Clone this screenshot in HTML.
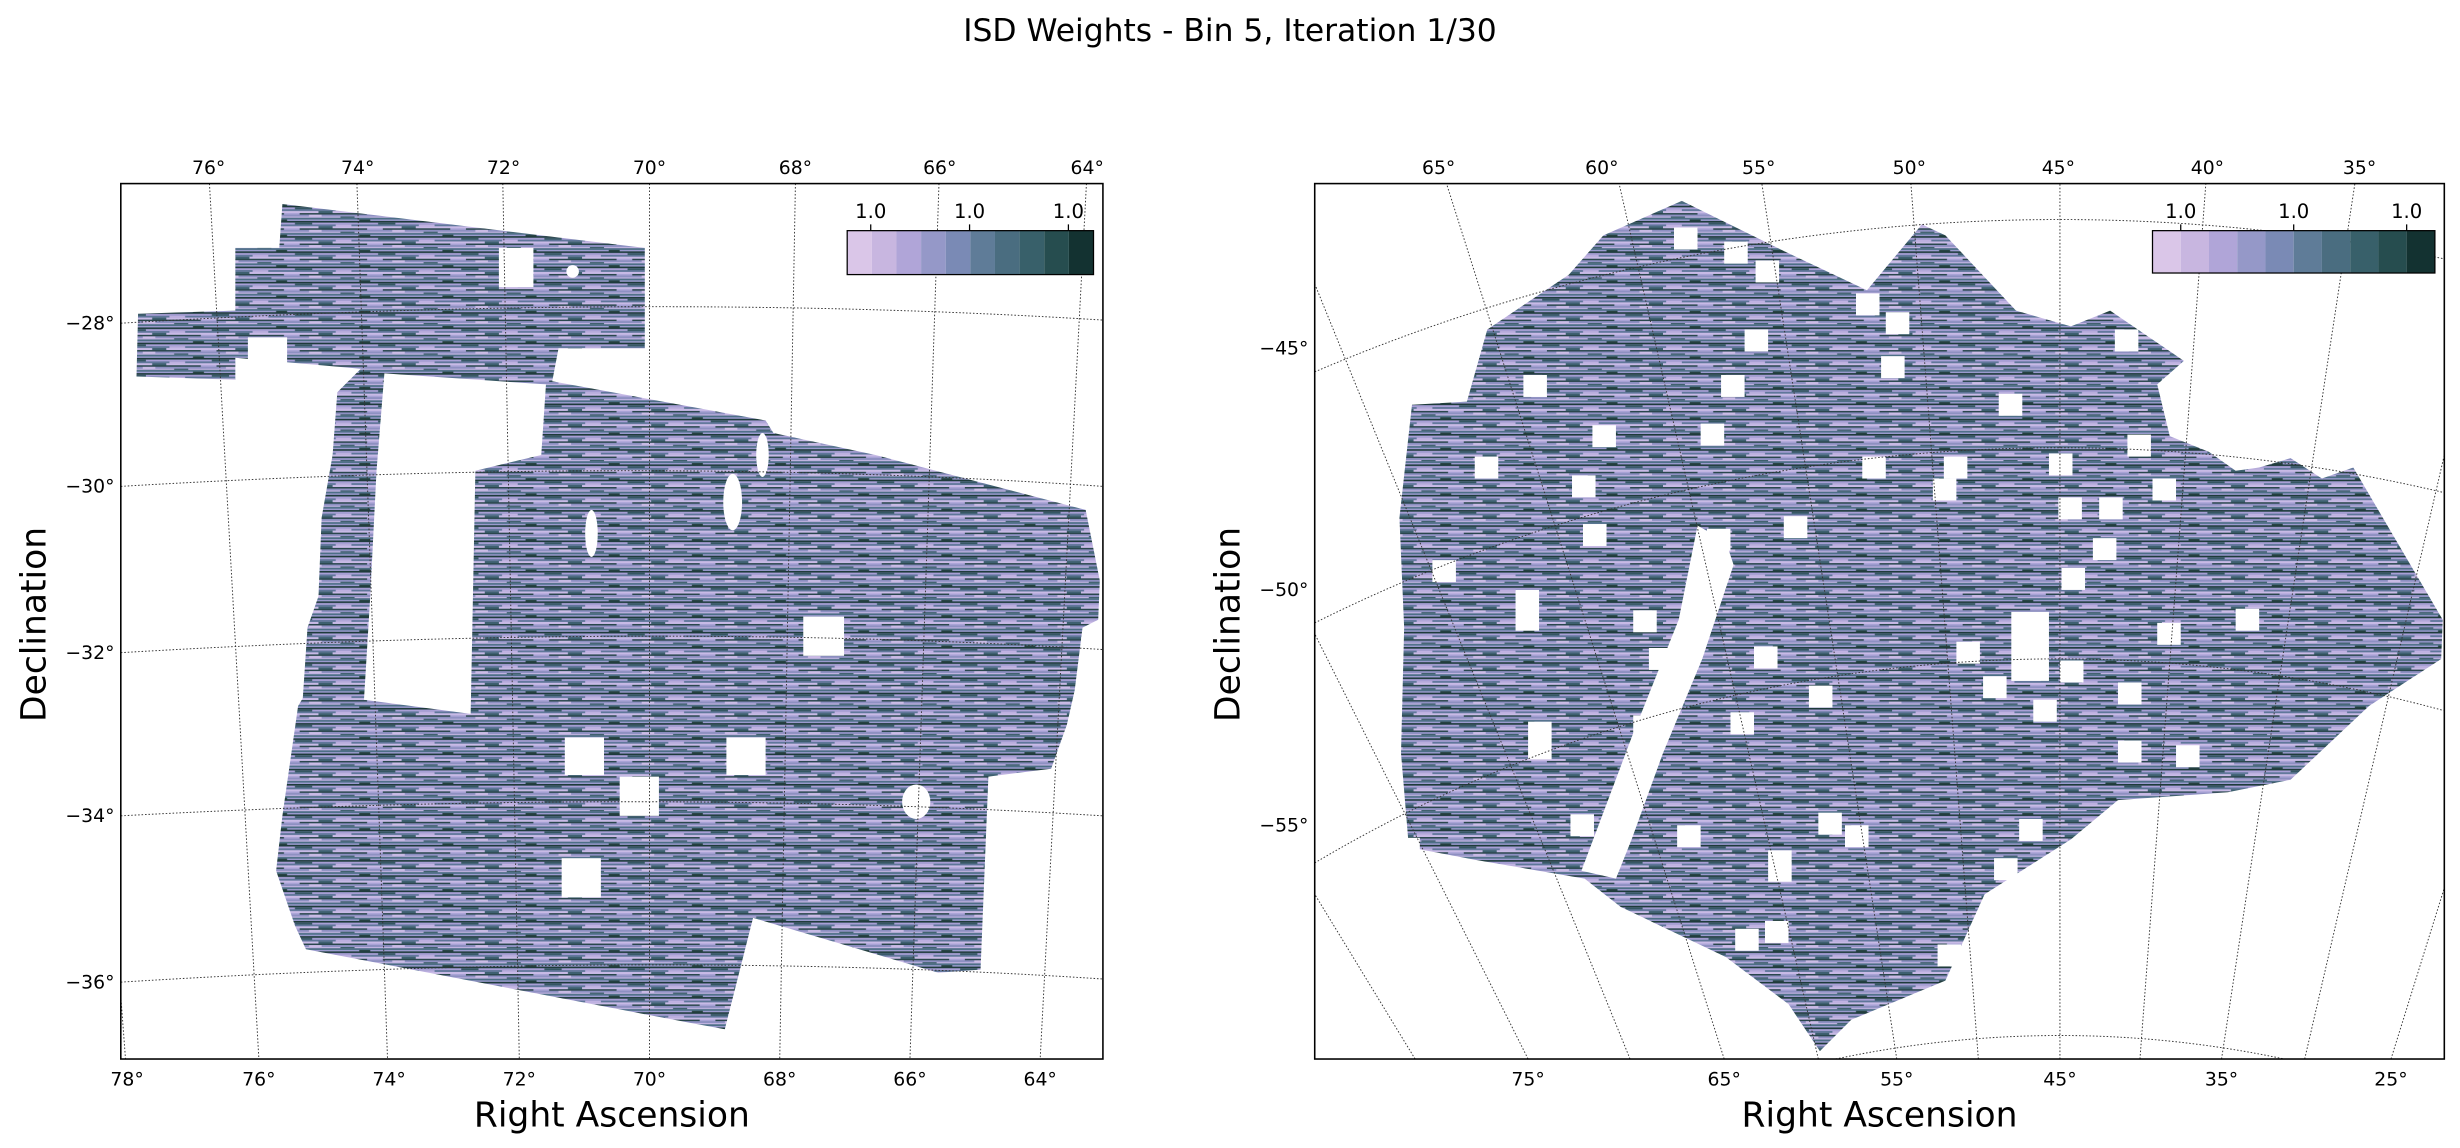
<!DOCTYPE html>
<html><head><meta charset="utf-8"><style>
html,body{margin:0;padding:0;background:#fff;width:2460px;height:1148px;overflow:hidden;}
svg{display:block;}
text{font-family:"DejaVu Sans","Liberation Sans",sans-serif;fill:#000;}
</style></head><body>
<svg width="2460" height="1148" viewBox="0 0 1568 731.7" xmlns="http://www.w3.org/2000/svg">
<defs>
<pattern id="st" patternUnits="userSpaceOnUse" width="53" height="9.7">
<rect x="0" y="0" width="53" height="9.7" fill="#7580a8"/>
<rect x="0" y="0" width="53" height="1" fill="#2a474d"/>
<rect x="0" y="1" width="53" height="1.2" fill="#8e90c2"/>
<rect x="0" y="2.2" width="53" height="0.8" fill="#c2b5e2"/>
<rect x="0" y="3" width="53" height="1.1" fill="#4d6f86"/>
<rect x="0" y="4.1" width="53" height="0.9" fill="#9c9cd0"/>
<rect x="0" y="5" width="53" height="1.1" fill="#1e3b3b"/>
<rect x="0" y="6.1" width="53" height="1.2" fill="#a89fd6"/>
<rect x="0" y="7.3" width="53" height="1.1" fill="#5d7598"/>
<rect x="0" y="8.4" width="53" height="1.3" fill="#c8bae6"/>
<rect x="5" y="2.2" width="9" height="0.8" fill="#3c5e6a"/>
<rect x="29" y="6.1" width="11" height="1.2" fill="#355763"/>
<rect x="17" y="4.1" width="7" height="0.9" fill="#24403f"/>
<rect x="38" y="1" width="8" height="1.2" fill="#cbbce6"/>
<rect x="2" y="7.3" width="10" height="1.1" fill="#c0b2e2"/>
<rect x="44" y="8.4" width="9" height="1.3" fill="#3e6070"/>
<rect x="22" y="0" width="10" height="1" fill="#a9a3d6"/>
</pattern>
<clipPath id="cl"><rect x="77" y="117" width="626" height="558"/></clipPath>
<clipPath id="cr"><rect x="838" y="117" width="720" height="558"/></clipPath>
</defs>

<text x="784" y="26" font-size="20" text-anchor="middle">ISD Weights - Bin 5, Iteration 1/30</text>

<!-- LEFT PANEL -->
<g clip-path="url(#cl)">
<path fill="url(#st)" d="M180,130 L411,158 L411,222 L356,222 L352,243 L488,268 L493,276 L558,290 L692,325 L701,370 L700,395 L690,400 L685,440 L680,462 L670,490 L630,495 L625,618 L598,620 L480,585 L462,656 L440,652 L195,605 L188,590 L176,555 L180,520 L190,450 L193,445 L196,400 L203,380 L205,330 L212,290 L215,250 L230,235 L150,228 L150,242 L87,240 L88,200 L150,198 L150,158 L178,158 Z"/>
<g fill="#fff">
<path d="M245,238 L348,245 L345,290 L303,300 L300,455 L232,446 L236,380 L240,300 Z"/>
<rect x="318" y="158" width="22" height="25"/>
<rect x="158" y="215" width="25" height="25"/>
<rect x="512" y="393" width="26" height="25"/>
<rect x="360" y="470" width="25" height="24"/>
<rect x="463" y="470" width="25" height="24"/>
<rect x="395" y="495" width="25" height="25"/>
<rect x="358" y="547" width="25" height="25"/>
<ellipse cx="584" cy="511" rx="9" ry="11"/>
<ellipse cx="467" cy="320" rx="6" ry="18"/>
<ellipse cx="377" cy="340" rx="4" ry="15"/>
<ellipse cx="486" cy="290" rx="4" ry="14"/>
<ellipse cx="365" cy="173" rx="4" ry="4"/>
</g>
<g fill="none" stroke="#333" stroke-width="0.6" stroke-dasharray="1,1.2">
<line x1="38" y1="117" x2="80" y2="675"/>
<line x1="133.5" y1="117" x2="165" y2="675"/>
<line x1="227.5" y1="117" x2="247" y2="675"/>
<line x1="320.5" y1="117" x2="331" y2="675"/>
<line x1="414" y1="117" x2="414" y2="675"/>
<line x1="507" y1="117" x2="497" y2="675"/>
<line x1="598.5" y1="117" x2="580" y2="675"/>
<line x1="692.5" y1="117" x2="663" y2="675"/>
<path d="M77,206 Q414,186 703,204"/>
<path d="M77,310 Q414,290 703,310"/>
<path d="M77,416 Q414,396 703,414"/>
<path d="M77,520 Q414,502 703,520"/>
<path d="M77,626 Q414,605 703,624"/>
</g>
</g>
<rect x="77" y="117" width="626" height="558" fill="none" stroke="#000" stroke-width="1"/>
<g>
<rect x="540" y="147" width="15.7" height="28" fill="#dac6e8"/>
<rect x="555.7" y="147" width="15.7" height="28" fill="#c8b6e0"/>
<rect x="571.4" y="147" width="15.7" height="28" fill="#b0a5d8"/>
<rect x="587.1" y="147" width="15.7" height="28" fill="#9598c8"/>
<rect x="602.8" y="147" width="15.7" height="28" fill="#7a8ab5"/>
<rect x="618.5" y="147" width="15.7" height="28" fill="#5f7c98"/>
<rect x="634.2" y="147" width="15.7" height="28" fill="#4a6d80"/>
<rect x="649.9" y="147" width="15.7" height="28" fill="#38606a"/>
<rect x="665.6" y="147" width="15.7" height="28" fill="#264d4f"/>
<rect x="681.3" y="147" width="15.7" height="28" fill="#133231"/>
<rect x="540" y="147" width="157" height="28" fill="none" stroke="#000" stroke-width="0.8"/>
<g stroke="#000" stroke-width="0.8"><line x1="555" y1="143" x2="555" y2="147"/><line x1="618" y1="143" x2="618" y2="147"/><line x1="681" y1="143" x2="681" y2="147"/></g>
<g font-size="12.5" text-anchor="middle"><text x="555" y="139">1.0</text><text x="618" y="139">1.0</text><text x="681" y="139">1.0</text></g>
</g>
<g font-size="12" text-anchor="middle">
<text x="133" y="111">76°</text><text x="228" y="111">74°</text><text x="321" y="111">72°</text><text x="414" y="111">70°</text><text x="507" y="111">68°</text><text x="599" y="111">66°</text><text x="693" y="111">64°</text>
<text x="81" y="692">78°</text><text x="165" y="692">76°</text><text x="248" y="692">74°</text><text x="331" y="692">72°</text><text x="414" y="692">70°</text><text x="497" y="692">68°</text><text x="580" y="692">66°</text><text x="663" y="692">64°</text>
</g>
<g font-size="12" text-anchor="end">
<text x="73" y="210">−28°</text><text x="73" y="314">−30°</text><text x="73" y="420">−32°</text><text x="73" y="524">−34°</text><text x="73" y="630">−36°</text>
</g>
<text x="390" y="718" font-size="22" text-anchor="middle">Right Ascension</text>
<text transform="translate(29,398) rotate(-90)" font-size="22" text-anchor="middle">Declination</text>

<!-- RIGHT PANEL -->
<g clip-path="url(#cr)">
<path fill="url(#st)" d="M900,258 L935,256 L948,210 L1000,175 L1022,150 L1072,128 L1137,160 L1190,185 L1225,143 L1240,150 L1285,198 L1320,208 L1345,198 L1392,230 L1375,245 L1383,278 L1408,288 L1425,300 L1440,298 L1460,292 L1480,305 L1500,298 L1557,395 L1556,420 L1510,450 L1460,497 L1420,505 L1350,510 L1320,535 L1265,570 L1240,625 L1180,650 L1160,670 L1140,640 L1100,610 L1033,578 L1010,560 L940,548 L898,540 L893,480 L895,400 L892,330 Z"/>
<g fill="#fff">
<path d="M1082,335 L1100,345 L1105,360 L1085,420 L1060,480 L1040,535 L1030,560 L1008,555 L1040,470 L1070,395 Z"/>
<rect x="1067" y="145" width="15" height="14"/><rect x="1099" y="154" width="15" height="14"/><rect x="1119" y="166" width="15" height="14"/>
<rect x="1183" y="187" width="15" height="14"/><rect x="1202" y="199" width="15" height="14"/><rect x="1112" y="210" width="15" height="14"/>
<rect x="1199" y="227" width="15" height="14"/><rect x="1348" y="210" width="15" height="14"/><rect x="1274" y="251" width="15" height="14"/>
<rect x="1097" y="239" width="15" height="14"/><rect x="971" y="239" width="15" height="14"/><rect x="1084" y="270" width="15" height="14"/>
<rect x="1015" y="271" width="15" height="14"/><rect x="940" y="291" width="15" height="14"/><rect x="1002" y="303" width="15" height="14"/>
<rect x="1187" y="291" width="15" height="14"/><rect x="1239" y="291" width="15" height="14"/><rect x="1306" y="289" width="15" height="14"/>
<rect x="1356" y="277" width="15" height="14"/><rect x="1232" y="305" width="15" height="14"/><rect x="1372" y="305" width="15" height="14"/>
<rect x="1312" y="317" width="15" height="14"/><rect x="1338" y="317" width="15" height="14"/><rect x="1137" y="329" width="15" height="14"/>
<rect x="1088" y="337" width="15" height="14"/><rect x="1009" y="334" width="15" height="14"/><rect x="913" y="357" width="15" height="14"/>
<rect x="1334" y="343" width="15" height="14"/><rect x="1314" y="362" width="15" height="14"/><rect x="1425" y="388" width="15" height="14"/>
<rect x="1375" y="397" width="15" height="14"/><rect x="966" y="376" width="15" height="26"/><rect x="1041" y="389" width="15" height="14"/>
<rect x="1051" y="413" width="15" height="14"/><rect x="1118" y="412" width="15" height="14"/><rect x="1247" y="409" width="15" height="14"/>
<rect x="1282" y="390" width="24" height="44"/><rect x="1313" y="421" width="15" height="14"/><rect x="1264" y="431" width="15" height="14"/>
<rect x="1153" y="437" width="15" height="14"/><rect x="1350" y="435" width="15" height="14"/><rect x="1296" y="446" width="15" height="14"/>
<rect x="1103" y="454" width="15" height="14"/><rect x="1041" y="456" width="15" height="14"/><rect x="974" y="460" width="15" height="24"/>
<rect x="1350" y="472" width="15" height="14"/><rect x="1387" y="475" width="15" height="14"/><rect x="1001" y="519" width="15" height="14"/>
<rect x="1069" y="526" width="15" height="14"/><rect x="1159" y="518" width="15" height="14"/><rect x="1176" y="526" width="15" height="14"/>
<rect x="1287" y="522" width="15" height="14"/><rect x="1271" y="547" width="15" height="14"/><rect x="1127" y="542" width="15" height="20"/>
<rect x="1106" y="592" width="15" height="14"/><rect x="1125" y="587" width="15" height="14"/><rect x="1235" y="602" width="15" height="14"/>
<rect x="890" y="534" width="15" height="14"/>
</g>
<g fill="none" stroke="#333" stroke-width="0.6" stroke-dasharray="1,1.2">
<line x1="902" y1="675" x2="562" y2="117"/>
<line x1="974" y1="675" x2="694" y2="117"/>
<line x1="1039" y1="675" x2="812" y2="117"/>
<line x1="1099" y1="675" x2="922" y2="117"/>
<line x1="1159" y1="675" x2="1032" y2="117"/>
<line x1="1209" y1="675" x2="1123" y2="117"/>
<line x1="1261" y1="675" x2="1218" y2="117"/>
<line x1="1313" y1="675" x2="1313" y2="117"/>
<line x1="1364" y1="675" x2="1406" y2="117"/>
<line x1="1416" y1="675" x2="1501" y2="117"/>
<line x1="1469" y1="675" x2="1598" y2="117"/>
<line x1="1524" y1="675" x2="1698" y2="117"/>
<path d="M838,237 A1210,1210 0 0 1 1558,165"/>
<path d="M838,397 A1065,1065 0 0 1 1558,314"/>
<path d="M838,550 A930,930 0 0 1 1558,453"/>
<path d="M1170,675 A690,690 0 0 1 1456,675"/>
</g>
</g>
<rect x="838" y="117" width="720" height="558" fill="none" stroke="#000" stroke-width="1"/>
<g>
<rect x="1372" y="147" width="18" height="27" fill="#dac6e8"/>
<rect x="1390" y="147" width="18" height="27" fill="#c8b6e0"/>
<rect x="1408" y="147" width="18" height="27" fill="#b0a5d8"/>
<rect x="1426" y="147" width="18" height="27" fill="#9598c8"/>
<rect x="1444" y="147" width="18" height="27" fill="#7a8ab5"/>
<rect x="1462" y="147" width="18" height="27" fill="#5f7c98"/>
<rect x="1480" y="147" width="18" height="27" fill="#4a6d80"/>
<rect x="1498" y="147" width="18" height="27" fill="#38606a"/>
<rect x="1516" y="147" width="18" height="27" fill="#264d4f"/>
<rect x="1534" y="147" width="18" height="27" fill="#133231"/>
<rect x="1372" y="147" width="180" height="27" fill="none" stroke="#000" stroke-width="0.8"/>
<g stroke="#000" stroke-width="0.8"><line x1="1390" y1="143" x2="1390" y2="147"/><line x1="1462" y1="143" x2="1462" y2="147"/><line x1="1534" y1="143" x2="1534" y2="147"/></g>
<g font-size="12.5" text-anchor="middle"><text x="1390" y="139">1.0</text><text x="1462" y="139">1.0</text><text x="1534" y="139">1.0</text></g>
</g>
<g font-size="12" text-anchor="middle">
<text x="917" y="111">65°</text><text x="1021" y="111">60°</text><text x="1121" y="111">55°</text><text x="1217" y="111">50°</text><text x="1312" y="111">45°</text><text x="1407" y="111">40°</text><text x="1504" y="111">35°</text>
<text x="974" y="692">75°</text><text x="1099" y="692">65°</text><text x="1209" y="692">55°</text><text x="1313" y="692">45°</text><text x="1416" y="692">35°</text><text x="1524" y="692">25°</text>
</g>
<g font-size="12" text-anchor="end">
<text x="834" y="226">−45°</text><text x="834" y="380">−50°</text><text x="834" y="530">−55°</text>
</g>
<text x="1198" y="718" font-size="22" text-anchor="middle">Right Ascension</text>
<text transform="translate(790,398) rotate(-90)" font-size="22" text-anchor="middle">Declination</text>
</svg>
</body></html>
